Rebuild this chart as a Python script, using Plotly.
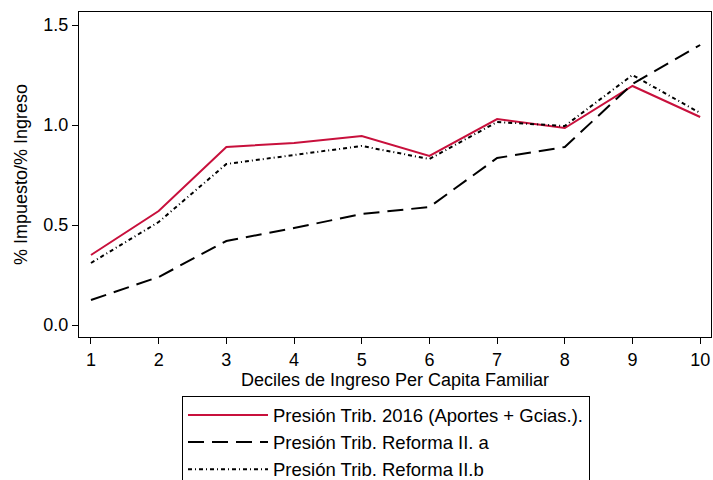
# Presion tributaria por decil de ingreso #
import plotly.graph_objects as go

# Data #
deciles = [1, 2, 3, 4, 5, 6, 7, 8, 9, 10]
presion_2016 = [0.35, 0.57, 0.89, 0.91, 0.945, 0.845, 1.03, 0.985, 1.195, 1.04]
reforma_a = [0.125, 0.24, 0.42, 0.485, 0.555, 0.59, 0.835, 0.89, 1.205, 1.40]
reforma_b = [0.31, 0.515, 0.805, 0.85, 0.895, 0.83, 1.015, 0.995, 1.25, 1.06]

y_ticks = [0.0, 0.5, 1.0, 1.5]

# Figure Initiation #
fig = go.Figure()

fig.add_trace(go.Scatter(x=deciles, y=presion_2016, mode="lines",
                         name="Presión Trib. 2016 (Aportes + Gcias.).",
                         line=dict(color="#C8103C", width=2)))
fig.add_trace(go.Scatter(x=deciles, y=reforma_a, mode="lines",
                         name="Presión Trib. Reforma II. a",
                         line=dict(color="black", width=2, dash="16px,8px")))
fig.add_trace(go.Scatter(x=deciles, y=reforma_b, mode="lines",
                         name="Presión Trib. Reforma II.b",
                         line=dict(color="black", width=2, dash="4px,3px,1px,3px")))

# Figure Layout #
fig.update_layout(
    width=713, height=480,
    margin=dict(l=79, r=2, t=12, b=143, autoexpand=False),
    plot_bgcolor="white",
    paper_bgcolor="white",
    font=dict(family="Liberation Sans, Arial, sans-serif", color="black"),
    showlegend=True,
    legend=dict(x=(182 - 79) / 632, y=-0.18, xanchor="left", yanchor="top",
                bordercolor="black", borderwidth=1, bgcolor="white",
                font=dict(size=18.5), itemwidth=80,
                tracegroupgap=0),
)

# X-Axis Styles #
fig.update_xaxes(
    title=dict(text="Deciles de Ingreso Per Capita Familiar", font=dict(size=18), standoff=1),
    range=[0.823, 10.16],
    tickvals=deciles,
    tickfont=dict(size=18),
    ticks="outside", ticklen=6, tickcolor="black",
    showgrid=False, zeroline=False,
    showline=True, linecolor="black", linewidth=1, mirror=True,
)

# Y-Axis Styles #
fig.update_yaxes(
    title=dict(text="% Impuesto/% Ingreso", font=dict(size=18), standoff=11),
    range=[-0.06, 1.565],
    tickvals=y_ticks,
    tickformat=".1f",
    tickfont=dict(size=18),
    ticks="outside", ticklen=6, tickcolor="black",
    showgrid=False, zeroline=False,
    showline=True, linecolor="black", linewidth=1, mirror=True,
)

fig.write_html("out.html", config={"displayModeBar": False},
               post_script="document.body.style.margin='0';")
